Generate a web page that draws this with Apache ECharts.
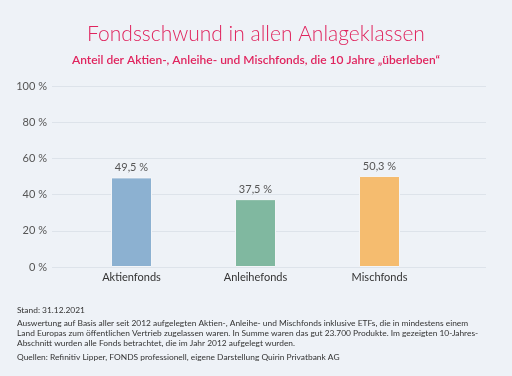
<!DOCTYPE html>
<html>
<head>
<meta charset="utf-8">
<script src="https://cdn.jsdelivr.net/npm/echarts@6/dist/echarts.min.js"></script>
<style>
  html, body { margin: 0; padding: 0; background: #eef2f7; }
  #chart { width: 512px; height: 376px; }
</style>
</head>
<body>
<div id="chart"></div>
<script>
var categories = ['Aktienfonds', 'Anleihefonds', 'Mischfonds'];
var shares = [49.5, 37.5, 50.3];
var barColors = ['#8cb1d1', '#80b8a0', '#f5bc6f'];
var yTicks = [0, 20, 40, 60, 80, 100];

var footStand = 'Stand: 31.12.2021';
var footText = [
    'Auswertung auf Basis aller seit 2012 aufgelegten Aktien-, Anleihe- und Mischfonds inklusive ETFs, die in mindestens einem',
    'Land Europas zum öffentlichen Vertrieb zugelassen waren. In Summe waren das gut 23.700 Produkte. Im gezeigten 10-Jahres-',
    'Abschnitt wurden alle Fonds betrachtet, die im Jahr 2012 aufgelegt wurden.'
];
var footSource = 'Quellen: Refinitiv Lipper, FONDS professionell, eigene Darstellung Quirin Privatbank AG';

var font = 'Lato';
var myChart = echarts.init(document.getElementById('chart'));

// Balken mit eigener Farbe je Kategorie
var barData = shares.map(function(v, i) {
    return {
        value : v,
        itemStyle : { color : barColors[i] }
    };
});

var option = {
    backgroundColor : '#eef2f7',
    animation : false,
    title : [{
        text : 'Fondsschwund in allen Anlageklassen',
        left : 'center',
        top : 19,
        textStyle : { fontFamily : font, fontSize : 21, fontWeight : 300, color : '#e0245e' }
    }, {
        text : 'Anteil der Aktien-, Anleihe- und Mischfonds, die 10 Jahre \u201e\u00fcberleben\u201c',
        left : 'center',
        top : 49,
        textStyle : { fontFamily : font, fontSize : 12, fontWeight : 600, color : '#e0245e' }
    }],
    grid : [{
        // Raster für y-Achse und Gitterlinien
        left : 52, right : 26, top : 86, bottom : 109
    }, {
        // Raster für die Balken
        left : 69.5, width : 372, top : 86, bottom : 109
    }],
    xAxis : [{
        gridIndex : 0,
        type : 'category',
        data : categories,
        show : false
    }, {
        gridIndex : 1,
        type : 'category',
        data : categories,
        axisLine : { show : false },
        axisTick : { show : false },
        axisLabel : { fontFamily : font, fontSize : 11, color : '#333', margin : 5 }
    }],
    yAxis : [{
        gridIndex : 0,
        type : 'value',
        min : yTicks[0],
        max : yTicks[yTicks.length - 1],
        interval : 20,
        axisLine : { show : false },
        axisTick : { show : false },
        axisLabel : {
            fontFamily : font, fontSize : 11, color : '#555', margin : 5,
            formatter : function(v) { return v + ' %'; }
        },
        splitLine : { lineStyle : { color : '#dde3ea', width : 1 } }
    }, {
        gridIndex : 1,
        type : 'value',
        min : 0,
        max : 100,
        show : false
    }],
    series : [{
        type : 'bar',
        xAxisIndex : 1,
        yAxisIndex : 1,
        barWidth : 41,
        data : barData,
        itemStyle : { borderColor : '#f3f5f8', borderWidth : 1 },
        label : {
            show : true,
            position : 'top',
            distance : 4,
            fontFamily : font, fontSize : 11, color : '#555',
            formatter : function(p) { return String(p.value).replace('.', ',') + ' %'; }
        }
    }],
    graphic : [{
        type : 'text', left : 17, top : 306,
        style : { text : footStand, fontFamily : font, fontSize : 8.4, fill : '#333' }
    }, {
        type : 'text', left : 17, top : 318,
        style : { text : footText.join('\n'), fontFamily : font, fontSize : 8.4, lineHeight : 10, fill : '#333' }
    }, {
        type : 'text', left : 17, top : 353,
        style : { text : footSource, fontFamily : font, fontSize : 8.4, fill : '#333' }
    }]
};
myChart.setOption(option);
</script>
</body>
</html>
